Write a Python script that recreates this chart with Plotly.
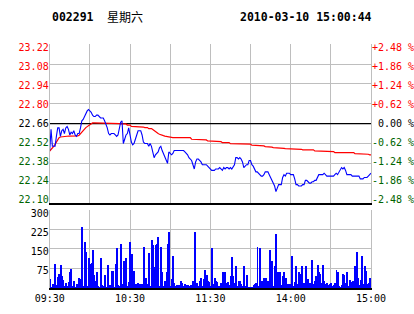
import plotly.graph_objects as go

# ---------------- data ----------------
stock_code = "002291"
weekday = "星期六"
stamp = "2010-03-10 15:00:44"
prev_close = 22.66

price_ticks = [22.10, 22.24, 22.38, 22.52, 22.66, 22.80, 22.94, 23.08, 23.22]
price_labels = ["22.10", "22.24", "22.38", "22.52", "22.66", "22.80", "22.94", "23.08", "23.22"]
pct_labels = ["-2.48 %", "-1.86 %", "-1.24 %", "-0.62 %", "\u00a00.00 %", "+0.62 %", "+1.24 %", "+1.86 %", "+2.48 %"]
vol_ticks = [75, 150, 225, 300]
vol_labels = ["75", "150", "225", "300"]
time_ticks = [0, 30, 60, 90, 120, 150, 180, 210, 240]
time_labels = ["09:30", "", "10:30", "", "11:30", "", "14:00", "", "15:00"]

price = [
    22.47, 22.62, 22.50, 22.50, 22.50, 22.57, 22.63, 22.63, 22.57, 22.61,
    22.62, 22.59, 22.63, 22.64, 22.62, 22.58, 22.60, 22.59, 22.61, 22.58,
    22.57, 22.59, 22.59, 22.63, 22.68, 22.69, 22.71, 22.74, 22.75, 22.76,
    22.75, 22.74, 22.72, 22.71, 22.71, 22.72, 22.72, 22.71, 22.70, 22.70,
    22.70, 22.68, 22.66, 22.63, 22.59, 22.58, 22.59, 22.59, 22.59, 22.58,
    22.57, 22.58, 22.63, 22.67, 22.68, 22.52, 22.55, 22.58, 22.59, 22.63,
    22.58, 22.53, 22.51, 22.52, 22.55, 22.59, 22.61, 22.61, 22.61, 22.58,
    22.53, 22.52, 22.52, 22.52, 22.50, 22.52, 22.50, 22.45, 22.42, 22.44,
    22.45, 22.46, 22.49, 22.50, 22.47, 22.45, 22.42, 22.41, 22.38, 22.46,
    22.45, 22.44, 22.45, 22.47, 22.47, 22.47, 22.47, 22.47, 22.47, 22.47,
    22.47, 22.46, 22.45, 22.44, 22.42, 22.41, 22.40, 22.37, 22.34, 22.39,
    22.41, 22.41, 22.40, 22.39, 22.37, 22.37, 22.37, 22.37, 22.36, 22.35,
    22.34, 22.33, 22.33, 22.33, 22.34, 22.34, 22.34, 22.35, 22.34, 22.33,
    22.35, 22.34, 22.35, 22.35, 22.34, 22.35, 22.34, 22.36, 22.37, 22.42,
    22.42, 22.41, 22.42, 22.41, 22.39, 22.35, 22.36, 22.37, 22.37, 22.40,
    22.40, 22.37, 22.36, 22.34, 22.32, 22.32, 22.31, 22.30, 22.29, 22.29,
    22.30, 22.32, 22.32, 22.32, 22.30, 22.28, 22.26, 22.23, 22.22, 22.18,
    22.21, 22.23, 22.23, 22.23, 22.28, 22.30, 22.29, 22.31, 22.31, 22.31,
    22.30, 22.30, 22.30, 22.27, 22.23, 22.23, 22.22, 22.22, 22.22, 22.23,
    22.23, 22.26, 22.26, 22.25, 22.24, 22.24, 22.25, 22.25, 22.26, 22.26,
    22.28, 22.30, 22.30, 22.30, 22.30, 22.31, 22.30, 22.29, 22.29, 22.29,
    22.29, 22.29, 22.29, 22.30, 22.31, 22.30, 22.32, 22.33, 22.35, 22.34,
    22.35, 22.33, 22.30, 22.30, 22.30, 22.30, 22.29, 22.29, 22.29, 22.29,
    22.29, 22.29, 22.27, 22.27, 22.27, 22.28, 22.28, 22.28, 22.29, 22.30,
    22.31,
]

average = [
    22.467, 22.476, 22.486, 22.500, 22.514, 22.530, 22.552, 22.561, 22.566, 22.566,
    22.568, 22.570, 22.571, 22.571, 22.572, 22.572, 22.572, 22.573, 22.573, 22.573,
    22.573, 22.574, 22.578, 22.589, 22.604, 22.613, 22.622, 22.632, 22.639, 22.646,
    22.653, 22.660, 22.665, 22.665, 22.665, 22.665, 22.665, 22.665, 22.665, 22.665,
    22.665, 22.665, 22.665, 22.665, 22.665, 22.665, 22.665, 22.665, 22.662, 22.660,
    22.660, 22.660, 22.660, 22.658, 22.658, 22.658, 22.658, 22.658, 22.650, 22.650,
    22.650, 22.641, 22.641, 22.641, 22.641, 22.641, 22.636, 22.636, 22.636, 22.636,
    22.636, 22.632, 22.632, 22.632, 22.625, 22.625, 22.625, 22.618, 22.610, 22.600,
    22.594, 22.590, 22.585, 22.580, 22.578, 22.575, 22.572, 22.570, 22.568, 22.566,
    22.561, 22.561, 22.561, 22.561, 22.561, 22.561, 22.561, 22.561, 22.561, 22.561,
    22.561, 22.561, 22.561, 22.561, 22.561, 22.561, 22.550, 22.550, 22.550, 22.550,
    22.550, 22.550, 22.550, 22.550, 22.545, 22.545, 22.545, 22.545, 22.538, 22.538,
    22.538, 22.538, 22.538, 22.538, 22.533, 22.533, 22.533, 22.533, 22.533, 22.526,
    22.526, 22.526, 22.526, 22.526, 22.526, 22.519, 22.519, 22.519, 22.519, 22.519,
    22.519, 22.519, 22.515, 22.515, 22.515, 22.515, 22.515, 22.515, 22.515, 22.515,
    22.515, 22.508, 22.508, 22.508, 22.508, 22.503, 22.503, 22.503, 22.503, 22.503,
    22.503, 22.498, 22.498, 22.498, 22.494, 22.494, 22.494, 22.491, 22.491, 22.486,
    22.486, 22.486, 22.486, 22.486, 22.486, 22.486, 22.484, 22.484, 22.484, 22.484,
    22.484, 22.484, 22.484, 22.479, 22.479, 22.479, 22.479, 22.479, 22.479, 22.475,
    22.475, 22.475, 22.475, 22.475, 22.475, 22.475, 22.475, 22.475, 22.468, 22.468,
    22.468, 22.468, 22.468, 22.468, 22.468, 22.468, 22.463, 22.463, 22.463, 22.463,
    22.463, 22.463, 22.463, 22.456, 22.456, 22.456, 22.456, 22.456, 22.456, 22.456,
    22.456, 22.456, 22.456, 22.456, 22.456, 22.456, 22.456, 22.456, 22.449, 22.449,
    22.449, 22.449, 22.449, 22.449, 22.449, 22.444, 22.444, 22.444, 22.444, 22.440,
    22.440,
]

volume = [
    37, 8, 18, 8, 94, 14, 46, 56, 91, 50,
    35, 11, 22, 11, 27, 65, 75, 11, 31, 8,
    18, 11, 43, 37, 234, 11, 180, 141, 11, 116,
    94, 98, 146, 52, 31, 65, 11, 5, 116, 14,
    11, 52, 8, 92, 14, 14, 69, 69, 8, 94,
    156, 14, 11, 171, 18, 104, 107, 116, 11, 27,
    180, 133, 14, 69, 18, 11, 22, 18, 11, 20,
    161, 42, 42, 20, 136, 9, 184, 165, 84, 167,
    171, 197, 11, 161, 63, 11, 31, 65, 171, 218,
    11, 37, 123, 24, 11, 14, 14, 14, 31, 22,
    11, 20, 14, 14, 11, 14, 8, 29, 218, 11,
    22, 11, 31, 43, 11, 37, 73, 52, 31, 27,
    11, 155, 17, 40, 31, 27, 11, 11, 22, 65,
    47, 65, 24, 27, 14, 47, 120, 47, 24, 88,
    11, 31, 31, 18, 11, 88, 11, 52, 8, 5,
    5, 5, 14, 18, 22, 158, 11, 155, 31, 31,
    43, 43, 14, 31, 149, 11, 107, 11, 86, 207,
    65, 52, 65, 14, 50, 65, 40, 11, 17, 17,
    14, 126, 11, 27, 86, 17, 63, 56, 88, 14,
    22, 88, 31, 37, 24, 14, 111, 17, 31, 47,
    91, 65, 56, 22, 91, 31, 17, 24, 14, 19,
    22, 11, 14, 22, 73, 65, 11, 8, 14, 56,
    52, 24, 65, 11, 34, 27, 31, 11, 88, 142,
    43, 14, 34, 126, 17, 88, 69, 17, 24, 42,
    42,
]

minutes = list(range(len(price)))

# ---------------- style ----------------
W, H = 414, 314
GRID = "#BEBEBE"
RED = "#FF0000"
GREEN = "#006400"
BLUE = "#0000FF"
MONO = "DejaVu Sans Mono"

def px_x(p):
    return p / W

def px_y(p):
    return 1 - p / H

X_DOM = [px_x(49.7), px_x(371)]
P_DOM = [px_y(203), px_y(44.3)]
V_DOM = [px_y(288.3), px_y(209.5)]

def tone(v):
    if abs(v - prev_close) < 1e-9:
        return "black"
    return RED if v > prev_close else GREEN

left_text = [f'<span style="color:{tone(v)}">{t}</span>' for v, t in zip(price_ticks, price_labels)]
right_text = [f'<span style="color:{tone(v)}">{t}</span>' for v, t in zip(price_ticks, pct_labels)]

fig = go.Figure()
fig.add_trace(go.Bar(x=minutes, y=volume, xaxis="x2", yaxis="y2",
                     marker=dict(color=BLUE, line=dict(width=0)), width=0.7))
# previous close reference line (drawn first so the series sit above it)
fig.add_trace(go.Scatter(x=[minutes[0], minutes[-1]], y=[prev_close, prev_close], mode="lines",
                         xaxis="x", yaxis="y", line=dict(color="black", width=1.2),
                         hoverinfo="skip"))
fig.add_trace(go.Scatter(x=minutes, y=average, mode="lines", xaxis="x", yaxis="y",
                         line=dict(color=RED, width=1.2)))
fig.add_trace(go.Scatter(x=minutes, y=price, mode="lines", xaxis="x", yaxis="y",
                         line=dict(color=BLUE, width=1.1)))
# empty carriers so that the label-only axes get drawn
for ya, xa in (("y3", "x"), ("y4", "x"), ("y5", "x2")):
    fig.add_trace(go.Scatter(x=[None], y=[None], xaxis=xa, yaxis=ya, mode="markers",
                             hoverinfo="skip", showlegend=False))

tick_font = dict(family=MONO, size=10, color="black")
common = dict(automargin=False, zeroline=False, ticks="")

fig.update_layout(
    width=W, height=H, margin=dict(l=0, r=0, t=0, b=0, autoexpand=False),
    paper_bgcolor="white", plot_bgcolor="white", showlegend=False, bargap=0,
    xaxis=dict(domain=X_DOM, anchor="y", range=[0, 240], tickvals=time_ticks,
               showticklabels=False, showgrid=True, gridcolor=GRID, gridwidth=1,
               showline=True, linecolor="black", linewidth=1.5, **common),
    yaxis=dict(domain=P_DOM, anchor="x", range=[22.10, 23.22], tickvals=price_ticks,
               showticklabels=False, showgrid=True, gridcolor=GRID, gridwidth=1,
               showline=True, linecolor=GRID, linewidth=1, mirror=True, **common),
    yaxis3=dict(overlaying="y", side="left", anchor="x", range=[22.0727, 23.2451],
                tickvals=price_ticks, ticktext=left_text, showgrid=False, showline=False,
                tickfont=tick_font, **common),
    yaxis4=dict(overlaying="y", side="right", anchor="x", range=[22.0727, 23.2451],
                tickvals=price_ticks, ticktext=right_text, showgrid=False, showline=False,
                tickfont=tick_font, **common),
    xaxis2=dict(domain=X_DOM, anchor="y2", range=[0, 240], tickvals=time_ticks,
                ticktext=time_labels, showgrid=True, gridcolor=GRID, gridwidth=1,
                showline=True, linecolor="black", linewidth=2,
                tickfont=tick_font, **common),
    yaxis2=dict(domain=V_DOM, anchor="x2", range=[0, 300], tickvals=vol_ticks,
                showticklabels=False, showgrid=True, gridcolor=GRID, gridwidth=1,
                showline=True, linecolor=GRID, linewidth=1, mirror=True, **common),
    yaxis5=dict(overlaying="y2", side="left", anchor="x2", range=[2.8, 313.8],
                tickvals=vol_ticks, ticktext=vol_labels, showgrid=False, showline=False,
                tickfont=tick_font, **common),
)

hdr_y = px_y(16.7)
fig.add_annotation(text=stock_code, xref="paper", yref="paper", x=px_x(50), y=hdr_y,
                   xanchor="left", yanchor="middle", showarrow=False,
                   font=dict(family=MONO, size=11.5, color="black", weight="bold"))
fig.add_annotation(text=weekday, xref="paper", yref="paper", x=px_x(105), y=hdr_y,
                   xanchor="left", yanchor="middle", showarrow=False,
                   font=dict(family="Noto Sans CJK SC", size=12, color="black"))
fig.add_annotation(text=stamp, xref="paper", yref="paper", x=px_x(238), y=hdr_y,
                   xanchor="left", yanchor="middle", showarrow=False,
                   font=dict(family=MONO, size=11.5, color="black", weight="bold"))

fig.write_html("out.html")
